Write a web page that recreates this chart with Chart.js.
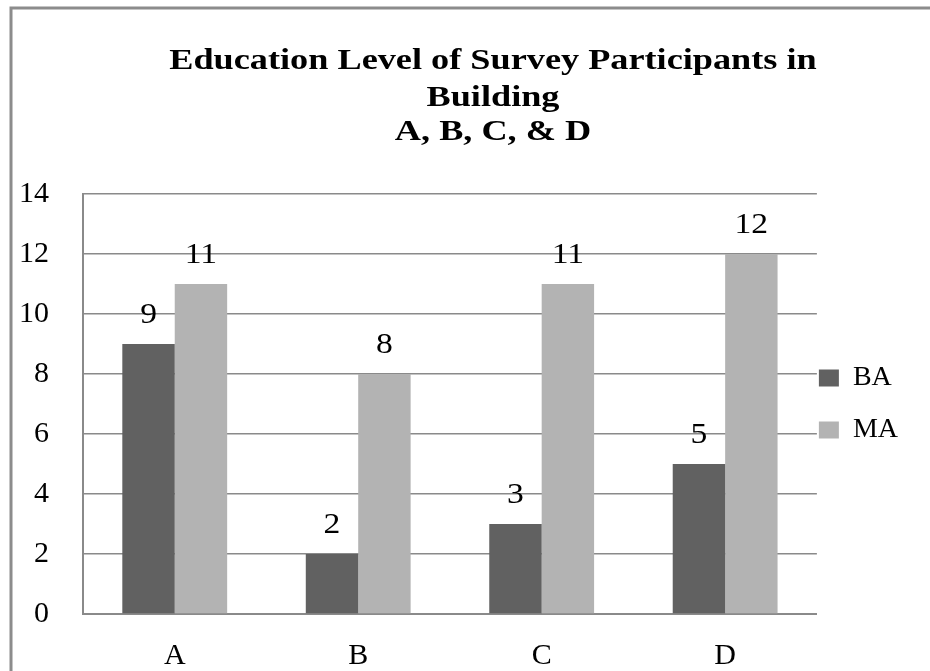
<!DOCTYPE html>
<html lang="en">
<head>
    <meta charset="UTF-8">
    <title>Education Level of Survey Participants</title>
    <script src="https://cdn.jsdelivr.net/npm/chart.js"></script>
    <style>
        html, body { margin: 0; padding: 0; background: #fff; }
        #wrap { width: 930px; height: 671px; }
    </style>
</head>
<body>
    <div id="wrap"><canvas id="eduChart"></canvas></div>

    <script>
        // data
        const buildings = ['A', 'B', 'C', 'D'];
        const baCounts = [9, 2, 3, 5];
        const maCounts = [11, 8, 11, 12];
        const yTicks = [0, 2, 4, 6, 8, 10, 12, 14];
        const titleLines = ['Education Level of Survey Participants in', 'Building', 'A, B, C, & D'];

        const serif = '"Liberation Serif", "Times New Roman", serif';
        const gridGray = '#8a8a8a';

        // outer frame of the picture (left and top edges only are visible)
        const framePlugin = {
            id: 'frame',
            beforeDraw(chart) {
                const ctx = chart.ctx;
                ctx.save();
                ctx.fillStyle = '#fff';
                ctx.fillRect(0, 0, chart.width, chart.height);
                ctx.strokeStyle = '#8c8c8c';
                ctx.lineWidth = 3;
                ctx.beginPath();
                ctx.moveTo(11, chart.height);
                ctx.lineTo(11, 8);
                ctx.lineTo(chart.width, 8);
                ctx.stroke();
                ctx.restore();
            }
        };

        // bold stretched title, centred a little right of the canvas middle
        const titlePlugin = {
            id: 'bigTitle',
            afterDraw(chart) {
                const ctx = chart.ctx;
                ctx.save();
                ctx.fillStyle = '#000';
                ctx.font = 'bold 29px ' + serif;
                ctx.textAlign = 'center';
                ctx.textBaseline = 'middle';
                const ys = [62, 99, 133];
                titleLines.forEach((line, i) => {
                    ctx.save();
                    ctx.translate(493, ys[i]);
                    ctx.scale(1.25, 1);
                    ctx.fillText(line, 0, 0);
                    ctx.restore();
                });
                ctx.restore();
            }
        };

        // value labels above each bar
        const valueLabels = {
            id: 'valueLabels',
            afterDatasetsDraw(chart) {
                const ctx = chart.ctx;
                ctx.save();
                ctx.fillStyle = '#000';
                ctx.font = '30px ' + serif;
                ctx.textAlign = 'center';
                ctx.textBaseline = 'middle';
                chart.data.datasets.forEach((ds, i) => {
                    chart.getDatasetMeta(i).data.forEach((bar, j) => {
                        ctx.save();
                        ctx.translate(bar.x, bar.y - 29);
                        ctx.scale(1.12, 1);
                        ctx.fillText(String(ds.data[j]), 0, 0);
                        ctx.restore();
                    });
                });
                ctx.restore();
            }
        };

        // pull legend items in closer to the plot area
        const legendShift = {
            id: 'legendShift',
            afterLayout(chart) {
                if (chart.legend) chart.legend.left -= 22;
            }
        };

        new Chart(document.getElementById('eduChart'), {
            type: 'bar',
            data: {
                labels: buildings,
                datasets: [
                    { label: 'BA', data: baCounts, backgroundColor: '#616161', borderWidth: 0 },
                    { label: 'MA', data: maCounts, backgroundColor: '#b3b3b3', borderWidth: 0 }
                ]
            },
            options: {
                responsive: true,
                maintainAspectRatio: false,
                animation: false,
                datasets: {
                    bar: { categoryPercentage: 2 / 3.5, barPercentage: 1.0 }
                },
                layout: { padding: { top: 194, left: 0, right: 0, bottom: 0 } },
                plugins: {
                    title: { display: false },
                    tooltip: { enabled: false },
                    legend: {
                        position: 'right',
                        fullSize: false,
                        labels: {
                            color: '#000',
                            font: { family: serif, size: 28 },
                            boxWidth: 20,
                            boxHeight: 17,
                            padding: 24
                        }
                    }
                },
                scales: {
                    x: {
                        grid: { display: false, drawTicks: false },
                        border: { display: true, color: gridGray, width: 2 },
                        ticks: {
                            color: '#000',
                            font: { family: serif, size: 30 },
                            padding: 24
                        },
                        afterFit(axis) { axis.height = 57; }
                    },
                    y: {
                        min: 0,
                        max: 14,
                        afterBuildTicks(axis) {
                            axis.ticks = yTicks.map(v => ({ value: v }));
                        },
                        grid: { color: gridGray, lineWidth: 1.5, drawTicks: false },
                        border: { display: true, color: gridGray, width: 2 },
                        ticks: {
                            color: '#000',
                            font: { family: serif, size: 30 },
                            padding: 34
                        },
                        afterFit(axis) { axis.width = 83; }
                    }
                }
            },
            plugins: [framePlugin, titlePlugin, valueLabels, legendShift]
        });
    </script>
</body>
</html>
